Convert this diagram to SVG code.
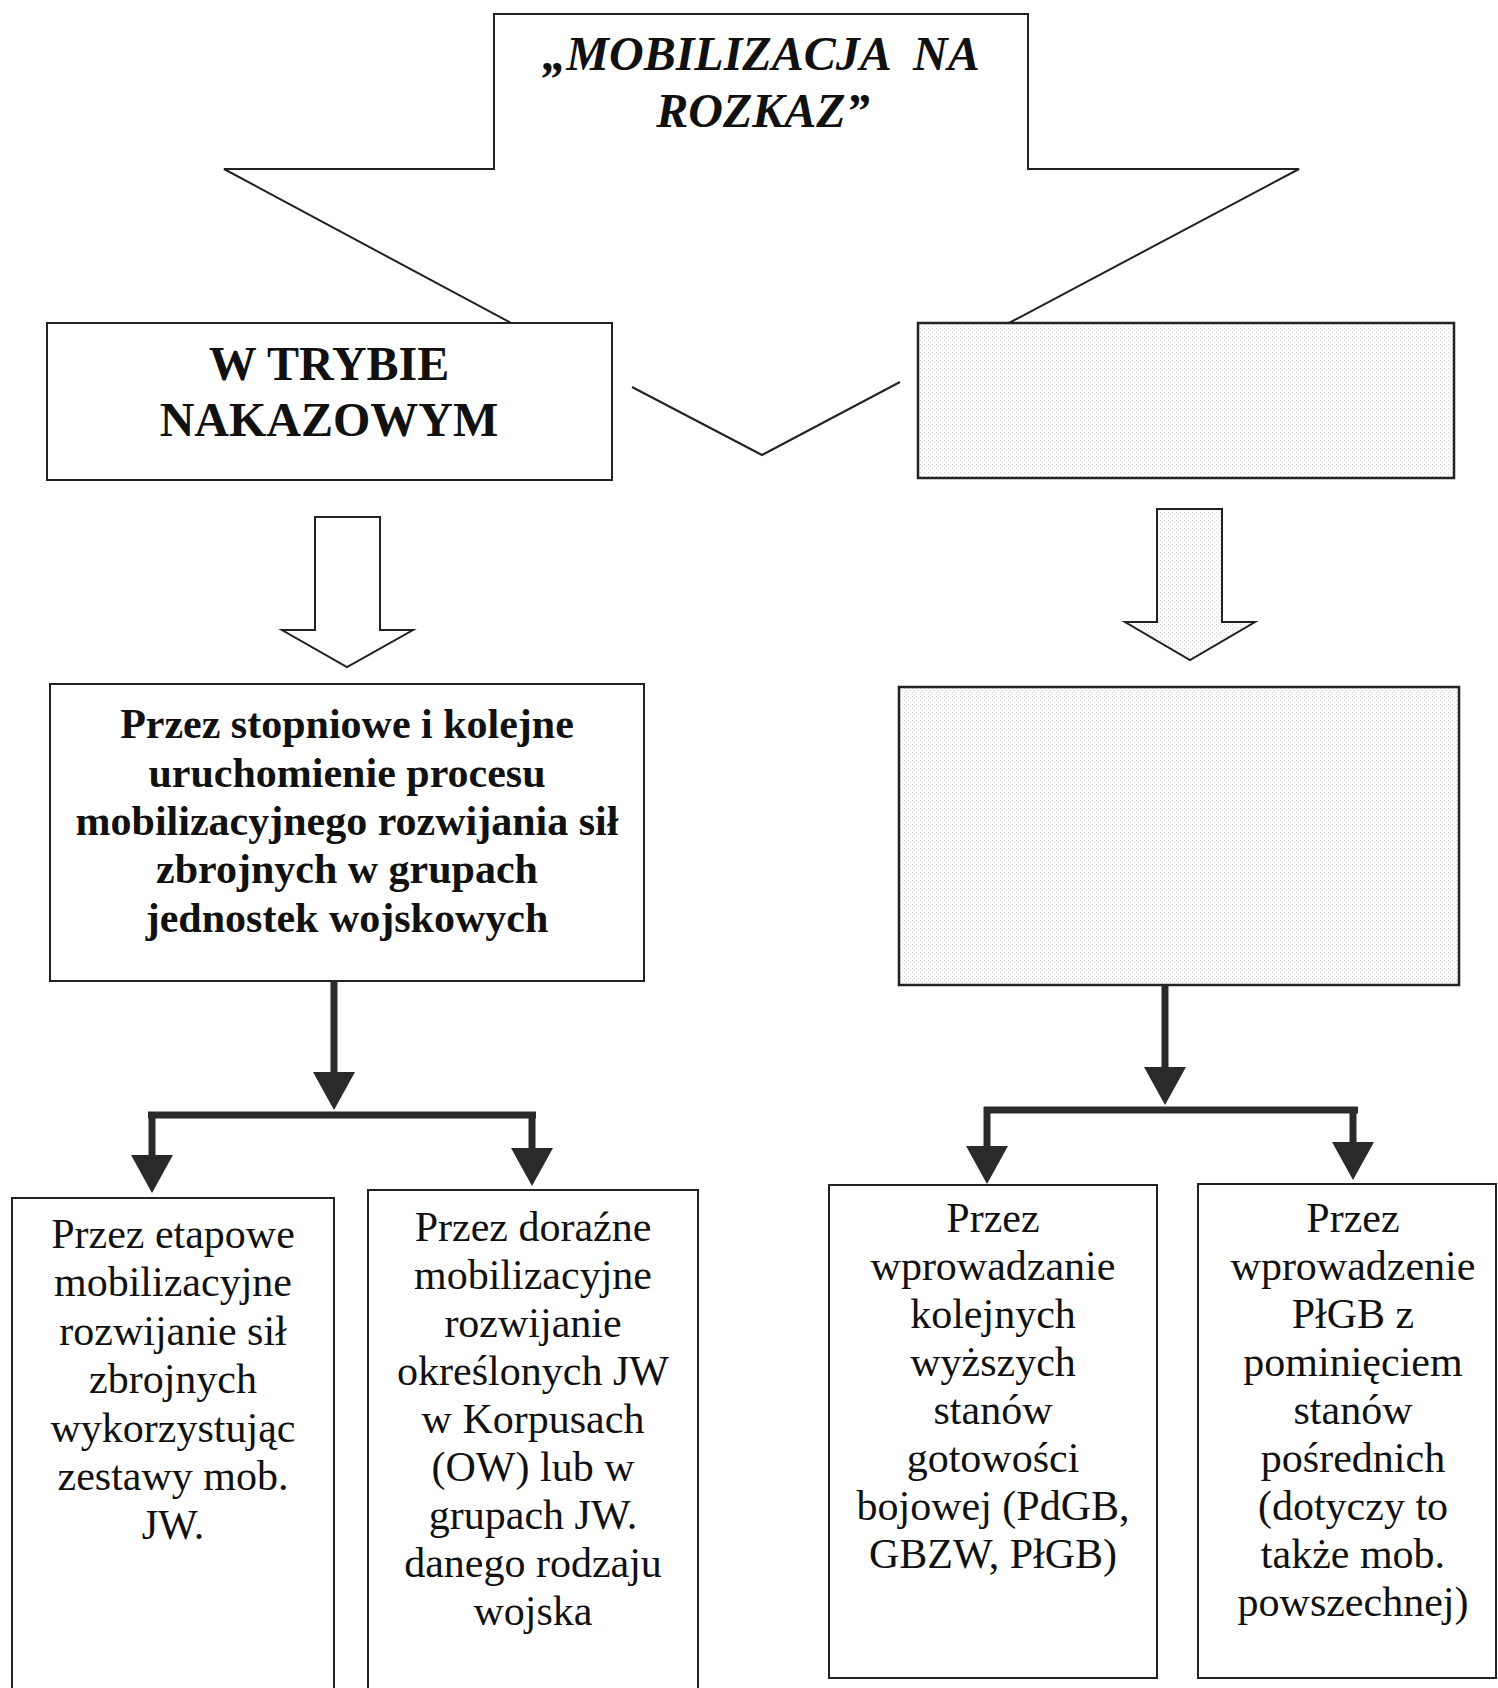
<svg xmlns="http://www.w3.org/2000/svg" width="1498" height="1688" viewBox="0 0 1498 1688">
<style>
.box{fill:#fff;stroke:#222;stroke-width:2}
.dot{fill:url(#stip);stroke:#222;stroke-width:2.5}
.hollow{fill:#fff;stroke:#222;stroke-width:2}
.edge{fill:none;stroke:#222;stroke-width:2}
.conn{fill:none;stroke:#2a2a2a;stroke-width:7;stroke-linecap:butt}
.t{font-family:"Liberation Serif","Times New Roman",serif;text-anchor:middle;fill:#111}
.title{font-size:48px;font-weight:bold;font-style:italic}
.big{font-size:48px;font-weight:bold}
.mid{font-size:42px;font-weight:bold}
.reg{font-size:42px}
</style>
<defs>
<pattern id="stip" width="4" height="4" patternUnits="userSpaceOnUse">
<rect width="4" height="4" fill="#fbfbfb"/>
<rect x="0" y="0" width="1" height="1" fill="#cfcfcf"/>
<rect x="2" y="2" width="1" height="1" fill="#e0e0e0"/>
</pattern>
<marker id="ah" viewBox="0 0 38 42" refX="28" refY="21" markerWidth="38" markerHeight="42" orient="auto" markerUnits="userSpaceOnUse">
<path d="M0,0 L38,21 L0,42 z" fill="#2a2a2a"/>
</marker>
</defs>
<rect width="1498" height="1688" fill="#fff"/>

<g id="big-arrow">
<polyline class="edge" points="511,323 224,169 494,169 494,14 1028,14 1028,169 1299,169 1009,323"/>
<polyline class="edge" points="632,387 762,455 900,382"/>
<text class="t title" x="761" y="70" xml:space="preserve">„MOBILIZACJA  NA</text>
<text class="t title" x="763" y="127">ROZKAZ”</text>
</g>

<g id="box-nakazowym">
<rect class="box" x="47" y="323" width="565" height="157"/>
<text class="t big" x="329" y="380">W TRYBIE</text>
<text class="t big" x="329" y="436">NAKAZOWYM</text>
</g>

<g id="box-right-top">
<rect class="dot" x="918" y="323" width="536" height="155"/>
</g>

<g id="hollow-arrow-left">
<polygon class="hollow" points="315,517 380,517 380,630 413,630 347,667 282,630 315,630"/>
</g>
<g id="hollow-arrow-right">
<polygon class="hollow" points="1157,509 1222,509 1222,622 1255,622 1190,660 1125,622 1157,622" style="fill:url(#stip)"/>
</g>

<g id="box-stopniowe">
<rect class="box" x="50" y="684" width="594" height="297"/>
<text class="t mid" x="347" y="738">Przez stopniowe i kolejne</text>
<text class="t mid" x="347" y="787">uruchomienie procesu</text>
<text class="t mid" x="347" y="835">mobilizacyjnego rozwijania sił</text>
<text class="t mid" x="347" y="883">zbrojnych w grupach</text>
<text class="t mid" x="347" y="932">jednostek wojskowych</text>
</g>

<g id="box-right-mid">
<rect class="dot" x="899" y="687" width="560" height="298"/>
</g>

<g id="connectors">
<path class="conn" d="M334,981 V1100" marker-end="url(#ah)"/>
<path class="conn" d="M148,1115 H536"/>
<path class="conn" d="M152,1112 V1183" marker-end="url(#ah)"/>
<path class="conn" d="M532,1112 V1176" marker-end="url(#ah)"/>
<path class="conn" d="M1165,985 V1095" marker-end="url(#ah)"/>
<path class="conn" d="M984,1110 H1358"/>
<path class="conn" d="M987,1107 V1174" marker-end="url(#ah)"/>
<path class="conn" d="M1353,1107 V1170" marker-end="url(#ah)"/>
</g>

<g id="box-etapowe">
<rect class="box" x="12" y="1198" width="322" height="500"/>
<text class="t reg" x="173" y="1248">Przez etapowe</text>
<text class="t reg" x="173" y="1296">mobilizacyjne</text>
<text class="t reg" x="173" y="1345">rozwijanie sił</text>
<text class="t reg" x="173" y="1393">zbrojnych</text>
<text class="t reg" x="173" y="1442">wykorzystując</text>
<text class="t reg" x="173" y="1490">zestawy mob.</text>
<text class="t reg" x="173" y="1539">JW.</text>
</g>

<g id="box-dorazne">
<rect class="box" x="368" y="1190" width="330" height="508"/>
<text class="t reg" x="533" y="1241">Przez doraźne</text>
<text class="t reg" x="533" y="1289">mobilizacyjne</text>
<text class="t reg" x="533" y="1337">rozwijanie</text>
<text class="t reg" x="533" y="1385">określonych JW</text>
<text class="t reg" x="533" y="1433">w Korpusach</text>
<text class="t reg" x="533" y="1481">(OW) lub w</text>
<text class="t reg" x="533" y="1529">grupach JW.</text>
<text class="t reg" x="533" y="1577">danego rodzaju</text>
<text class="t reg" x="533" y="1625">wojska</text>
</g>

<g id="box-wprowadzanie">
<rect class="box" x="829" y="1185" width="328" height="493"/>
<text class="t reg" x="993" y="1232">Przez</text>
<text class="t reg" x="993" y="1280">wprowadzanie</text>
<text class="t reg" x="993" y="1328">kolejnych</text>
<text class="t reg" x="993" y="1376">wyższych</text>
<text class="t reg" x="993" y="1424">stanów</text>
<text class="t reg" x="993" y="1472">gotowości</text>
<text class="t reg" x="993" y="1520">bojowej (PdGB,</text>
<text class="t reg" x="993" y="1568">GBZW, PłGB)</text>
</g>

<g id="box-wprowadzenie">
<rect class="box" x="1198" y="1184" width="298" height="494"/>
<text class="t reg" x="1353" y="1232">Przez</text>
<text class="t reg" x="1353" y="1280">wprowadzenie</text>
<text class="t reg" x="1353" y="1328">PłGB z</text>
<text class="t reg" x="1353" y="1376">pominięciem</text>
<text class="t reg" x="1353" y="1424">stanów</text>
<text class="t reg" x="1353" y="1472">pośrednich</text>
<text class="t reg" x="1353" y="1520">(dotyczy to</text>
<text class="t reg" x="1353" y="1568">także mob.</text>
<text class="t reg" x="1353" y="1616">powszechnej)</text>
</g>
</svg>
